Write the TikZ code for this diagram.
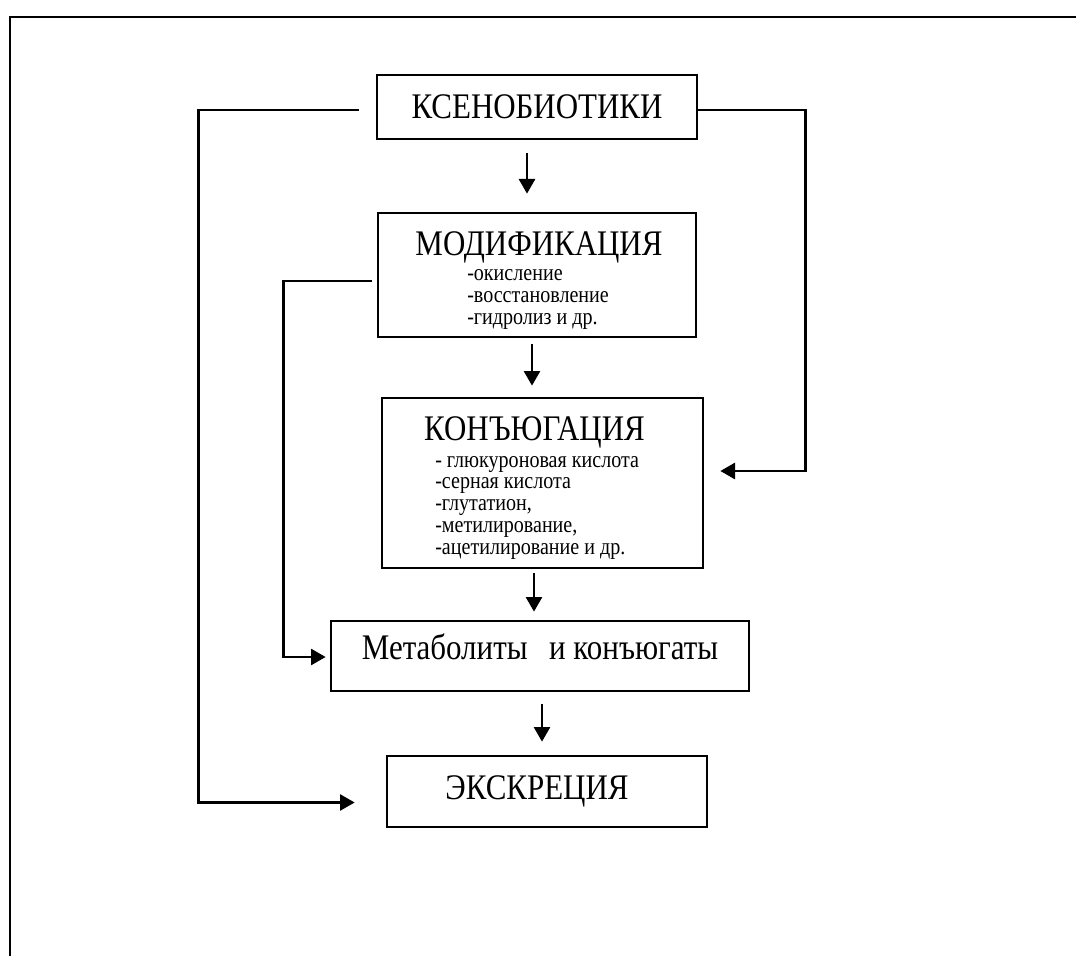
\documentclass[tikz,border=0pt]{standalone}
\usepackage{fontspec}
\setmainfont{Liberation Serif}[FakeStretch=0.86]
\usepackage{tikz}
\usetikzlibrary{arrows.meta, positioning, calc}
\tikzset{
	stage/.style    ={rectangle, draw=black, line width=2pt, minimum width=240pt, align=center, inner sep=0pt},
	head/.style     ={font=\fontsize{27}{30}\selectfont, inner sep=0pt},
	items/.style    ={font=\fontsize{17.5}{16.3}\selectfont, align=left, inner sep=0pt},
	% connectors
	flow/.style     ={-{Triangle[length=11pt, width=12pt]}, line width=2pt},
	frameline/.style={line width=2pt},
}

\begin{document}
\begin{tikzpicture}[x=0.75pt, y=-0.75pt]
	\useasboundingbox (0,0) rectangle (1076,956);
	% open frame: top and left edge only
	\draw[frameline] (1076,17) -- (10,17) -- (10,956);

	\node[stage, head, minimum height=48pt] (ksen) at (537,107) {КСЕНОБИОТИКИ};
	\node[stage, minimum width=238.5pt, minimum height=93pt] (mod) at (537,275) {};
	\node[head, anchor=base] (modhead) at (539,255) {МОДИФИКАЦИЯ};
	% list nodes sit on the baseline of their last line
	\node[items, anchor=base west] (modlist) at (467,324) {-окисление\\-восстановление\\-гидролиз и др.};
	\node[stage, minimum width=240.75pt, minimum height=127.5pt] (konj) at (542.5,483) {};
	\node[head, anchor=base] (konjhead) at (534.5,440) {КОНЪЮГАЦИЯ};
	\node[items, anchor=base west] (konjlist) at (435,554) {- глюкуроновая кислота\\-серная кислота\\-глутатион,\\-метилирование,\\-ацетилирование и др.};
	\node[stage, head, minimum width=313.5pt, minimum height=52.5pt, text depth=14pt] (metab) at (540,656) {Метаболиты\hspace{0.6em}и конъюгаты};
	\node[stage, head, minimum height=53.25pt] (excr) at (547,791.5) {ЭКСКРЕЦИЯ\hspace*{15pt}};

	% main chain
	\draw[flow, shorten <=9.75pt, shorten >=13.5pt] ($(ksen.south)+(-10,0)$) -- ($(mod.north)+(-10,0)$);
	\draw[flow, shorten <=4.5pt, shorten >=8.25pt] ($(mod.south)+(-5,0)$) -- ($(konj.north)+(-10.5,0)$);
	\draw[flow, shorten <=3pt, shorten >=6pt] ($(konj.south)+(-8.5,0)$) -- ($(metab.north)+(-6,0)$);
	\draw[flow, shorten <=9pt, shorten >=9.75pt] ($(metab.south)+(2,0)$) -- ($(excr.north)+(-5,0)$);

	% by-passes
	\draw[flow] ($(ksen.west)+(-17,3)$) -- ++(-160,0) |- ($(excr.west)+(-31,11)$);
	\draw[flow] ($(mod.west)+(-5,6)$) -- ++(-88,0) |- ($(metab.west)+(-4,1)$);
	\draw[flow] ($(ksen.east)+(0,3)$) -- ++(107,0) |- ($(konj.east)+(16,-12)$);
\end{tikzpicture}
\end{document}
